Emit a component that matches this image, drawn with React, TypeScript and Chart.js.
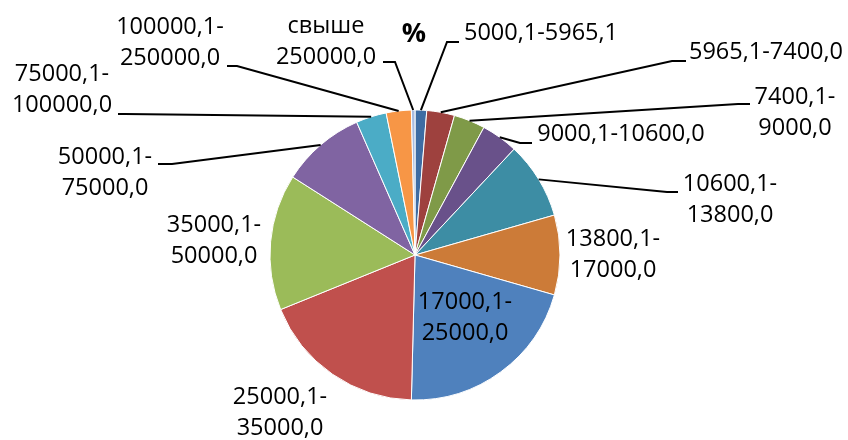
import React, { useEffect, useRef } from "react";
import { Chart, registerables } from "chart.js";

Chart.register(...registerables);

// ---- data ----
const categories = [
  "5000,1-5965,1",
  "5965,1-7400,0",
  "7400,1-9000,0",
  "9000,1-10600,0",
  "10600,1-13800,0",
  "13800,1-17000,0",
  "17000,1-25000,0",
  "25000,1-35000,0",
  "35000,1-50000,0",
  "50000,1-75000,0",
  "75000,1-100000,0",
  "100000,1-250000,0",
  "свыше 250000,0",
];
const shares = [1.3, 3.1, 3.5, 4.1, 8.6, 8.9, 21.0, 18.5, 15.2, 9.4, 3.4, 2.8, 0.4];
const titleText = "%";

// text of each data label, as wrapped lines
const labelLines: string[][] = [
  ["5000,1-5965,1"],
  ["5965,1-7400,0"],
  ["7400,1-", "9000,0"],
  ["9000,1-10600,0"],
  ["10600,1-", "13800,0"],
  ["13800,1-", "17000,0"],
  ["17000,1-", "25000,0"],
  ["25000,1-", "35000,0"],
  ["35000,1-", "50000,0"],
  ["50000,1-", "75000,0"],
  ["75000,1-", "100000,0"],
  ["100000,1-", "250000,0"],
  ["свыше", "250000,0"],
];

// ---- styles / layout ----
const sliceColors = [
  "#3E6CA3",
  "#9E413E",
  "#7F9A48",
  "#69518A",
  "#3D8DA4",
  "#CC7B38",
  "#4F81BD",
  "#C0504D",
  "#9BBB59",
  "#8064A2",
  "#4BACC6",
  "#F79646",
  "#A9BCE0",
];

// label placement relative to pie centre: text centre x, first-line centre y,
// and optional leader elbow / end points
type LabelPos = { tx: number; ty: number; leader?: [number, number, number, number] };
const labelPos: LabelPos[] = [
  { tx: 126, ty: -222, leader: [32, -213, 44, -213] },
  { tx: 351, ty: -203, leader: [257, -194, 271, -194] },
  { tx: 380, ty: -158, leader: [323, -151, 335, -151] },
  { tx: 206, ty: -121, leader: [105, -112, 117, -112] },
  { tx: 315, ty: -71, leader: [252, -63, 263, -63] },
  { tx: 198, ty: -16 },
  { tx: 50, ty: 47 },
  { tx: -135, ty: 142 },
  { tx: -201, ty: -30 },
  { tx: -310, ty: -98, leader: [-243, -91, -257, -91] },
  { tx: -353, ty: -181, leader: [-290, -141, -297, -141] },
  { tx: -245, ty: -228, leader: [-178, -189, -188, -189] },
  { tx: -89, ty: -229, leader: [-20, -193, -32, -193] },
];

const FONT = '"Open Sans", "Liberation Sans", sans-serif';
const LABEL_SIZE = 23.5;
const LINE_H = 31;

const labelPlugin = {
  id: "excelLabels",
  afterDraw(chart: any) {
    const ctx = chart.ctx as CanvasRenderingContext2D;
    const meta = chart.getDatasetMeta(0);
    ctx.save();
    // title
    const first = meta.data[0];
    const cx0 = first.x;
    ctx.fillStyle = "#000";
    ctx.font = `bold 27px ${FONT}`;
    ctx.textAlign = "center";
    ctx.textBaseline = "middle";
    ctx.fillText(titleText, cx0 - 1, 34);

    meta.data.forEach((arc: any, i: number) => {
      const { x, y, startAngle, endAngle, outerRadius } = arc.getProps(
        ["x", "y", "startAngle", "endAngle", "outerRadius"],
        true
      );
      const pos = labelPos[i];
      if (pos.leader) {
        const mid = (startAngle + endAngle) / 2;
        const px = x + Math.cos(mid) * outerRadius;
        const py = y + Math.sin(mid) * outerRadius;
        ctx.strokeStyle = "#000";
        ctx.lineWidth = 2;
        ctx.beginPath();
        ctx.moveTo(px, py);
        ctx.lineTo(x + pos.leader[0], y + pos.leader[1]);
        ctx.lineTo(x + pos.leader[2], y + pos.leader[3]);
        ctx.stroke();
      }
      ctx.fillStyle = "#000";
      ctx.font = `${LABEL_SIZE}px ${FONT}`;
      ctx.textAlign = "center";
      ctx.textBaseline = "middle";
      labelLines[i].forEach((line, k) => {
        ctx.fillText(line, x + pos.tx, y + pos.ty + k * LINE_H);
      });
    });
    ctx.restore();
  },
};

export default function App() {
  const ref = useRef<HTMLCanvasElement | null>(null);
  useEffect(() => {
    if (!ref.current) return;
    const chart = new Chart(ref.current, {
      type: "pie",
      data: {
        labels: categories,
        datasets: [
          {
            data: shares,
            backgroundColor: sliceColors,
            borderColor: "#ffffff",
            borderWidth: 1,
            radius: 145,
          } as any,
        ],
      },
      options: {
        responsive: false,
        animation: false,
        events: [],
        layout: { padding: { left: 270, right: 288, top: 110, bottom: 40 } },
        plugins: {
          legend: { display: false },
          tooltip: { enabled: false },
          title: { display: false },
        },
      },
      plugins: [labelPlugin],
    });
    return () => chart.destroy();
  }, []);
  return (
    <div style={{ position: "absolute", left: 0, top: 0, width: 848, height: 440, background: "#fff" }}>
      <canvas ref={ref} width={848} height={440} />
    </div>
  );
}
